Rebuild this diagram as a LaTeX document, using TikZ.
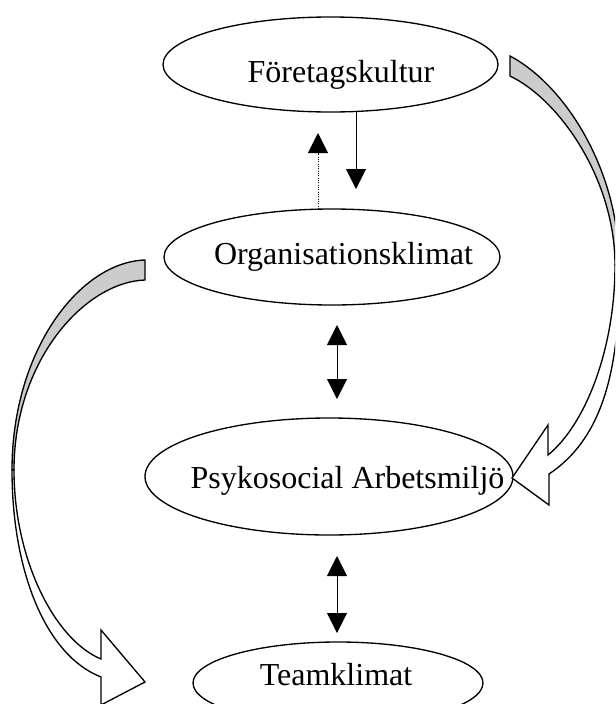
\documentclass[tikz,border=0pt]{standalone}
\usepackage{fontspec}
\setmainfont{Liberation Serif}
\usetikzlibrary{shapes.geometric,arrows.meta}

\definecolor{backface}{gray}{0.8}

%% the two curved block arrows: grey back half, white front half with head
\def\rightback{(510,56) .. controls (565,85) and (619,170) .. (619,265) -- (615,265) .. controls (615,180) and (560,100) .. (510,76) -- cycle}
\def\rightfront{(619,265) .. controls (621,375) and (600,440) .. (549,474) -- (549,505) -- (512,478) -- (548,425) -- (548,455) .. controls (585,425) and (615,350) .. (615,265) -- cycle}
\def\leftback{(145,260) .. controls (80,262) and (12,350) .. (12,470) -- (14,470) .. controls (14,360) and (85,282) .. (145,280) -- cycle}
\def\leftfront{(12,470) .. controls (12,570) and (45,655) .. (101,677) -- (101,705) -- (145,682) -- (101,630) -- (101,659) .. controls (55,640) and (14,560) .. (14,470) -- cycle}

\begin{document}
\begin{tikzpicture}[x=0.75pt, y=-0.75pt,
    ellipsebox/.style={ellipse, draw, line width=1pt, inner sep=0pt, outer sep=0pt},
    boxtext/.style={font=\fontsize{24}{28}\selectfont, inner sep=0pt, anchor=base},
    onearrow/.style={line width=0.75pt, -{Triangle[length=15pt,width=15pt]}},
    twoway/.style={line width=0.75pt, {Triangle[length=15pt,width=15pt]}-{Triangle[length=15pt,width=15pt]}},
    blockedge/.style={draw=black, line width=1pt, line join=miter}]
    \useasboundingbox (0,0) rectangle (615,704);
    \clip (0,0) rectangle (615,704);

    %% Draw the four levels
    \node[ellipsebox, minimum width=251.25pt, minimum height=71.25pt] (kultur) at (330.5,64.5) {};
    \node[boxtext] (kulturtext) at (341,82) {Företagskultur};
    \node[ellipsebox, minimum width=252pt, minimum height=72pt] (org) at (332,257) {};
    \node[boxtext] (orgtext) at (343.5,264) {Organisationsklimat};
    \node[ellipsebox, minimum width=276pt, minimum height=87.75pt] (psyk) at (329,476.5) {};
    \node[boxtext] (psyktext) at (347.5,488) {Psykosocial Arbetsmiljö};
    \node[ellipsebox, minimum width=217.5pt, minimum height=61.5pt] (team) at (338,683) {};
    \node[boxtext] (teamtext) at (336,685) {Teamklimat};

    %% Straight arrows between the levels
    \coordinate (downx) at (356,0);
    \coordinate (upx) at (318,0);
    \coordinate (midx) at (337,0);
    \draw[onearrow, shorten >=15pt] (kultur.south -| downx) -- (org.north -| downx);
    \draw[onearrow, densely dotted, shorten >=15.75pt] (org.north -| upx) -- (kultur.south -| upx);
    \draw[twoway, shorten <=15pt, shorten >=14.25pt] (org.south -| midx) -- (psyk.north -| midx);
    \draw[twoway, shorten <=15.75pt, shorten >=6.75pt] (psyk.south -| midx) -- (team.north -| midx);

    %% Curved arrows skipping a level
    \filldraw[blockedge, fill=backface] \rightback;
    \filldraw[blockedge, fill=white] \rightfront;
    \filldraw[blockedge, fill=backface] \leftback;
    \filldraw[blockedge, fill=white] \leftfront;
\end{tikzpicture}
\end{document}
